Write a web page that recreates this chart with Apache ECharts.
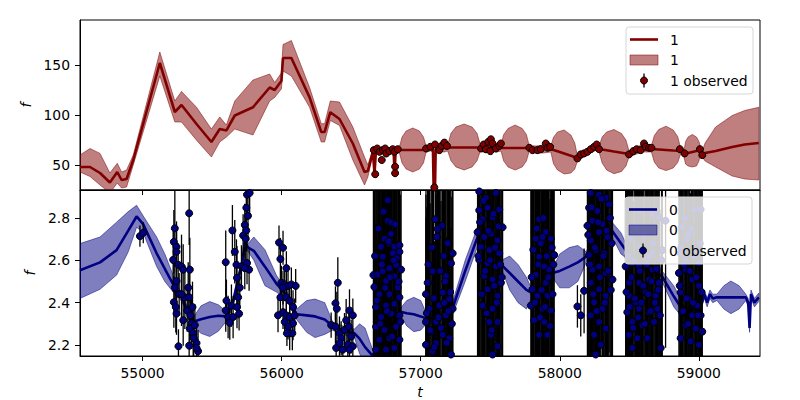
<!DOCTYPE html>
<html>
<head>
<meta charset="utf-8">
<script src="https://cdn.jsdelivr.net/npm/echarts@6/dist/echarts.min.js"></script>
<style>html,body{margin:0;padding:0;background:#fff}#c{width:800px;height:400px}</style>
</head>
<body>
<div id="c"></div>
<script>
// ---------- axis ticks ----------
const tickX = [55000, 56000, 57000, 58000, 59000];
const tickY1 = [50, 100, 150];
const tickY0 = [2.2, 2.4, 2.6, 2.8];

// ---------- top panel (series "1") model ----------
const modelT1 = [54550,54622,54694,54765,54818,54849,54885,54933,55124,55232,55280,55388,55495,55555,55603,55663,55794,55914,55950,55998,56010,56070,56201,56285,56309,56350,56416,56512,56596,56620,56656,56668,56678,56720,56760,56805,56812,56820,56847,
56866,56895,56943,56991,57020,57039,57070,57088,57093,57103,57108,57134,57170,57194,
57218,57253,57312,57370,57405,57429,57470,57505,57545,57577,
57597,57628,57679,57730,57760,57780,57830,57880,57936,
57955,57984,58032,58080,58108,58127,58175,58223,58266,58283,
58305,58337,58390,58444,58476,58498,58553,58606,58659,
58680,58712,58764,58816,58848,58869,58893,
58905,58923,58953,58983,59001,59013,59025,59045,59121,59240,59330,59431];
const modelM1 = [48,48,42,32.5,43,35,36,55,152,103,110,91,73,86,84.6,99.5,107.7,127.5,125,134,157,157,117.6,83,83,102.8,96,71.5,43,44,63,41,64,65,64,65,42,64,65,
65,65,65,65,65,66,67,66,27,27,66,66,67,67,
67.5,67.5,67.5,67.5,67.5,67,66,68,67,67,
67,67,67,67,67,66.5,65.5,66,66,
65,63.7,61.5,59.3,58,56.6,61,65,68,66,
65.5,64.8,63.5,62.3,61.5,61,64,67,66,
65.8,65.5,65,64.5,64.2,64,61,
61.5,62,63,64,64.5,65,61,62,64,68,70.5,72];
const modelLo1 = [43,38.5,30,22,32,27,28,50,139,93,93,74.8,58,73,78,86,80,114,117.6,126,144,139,107.7,73,73,94.5,89.6,55,30,38,60,38,61,62,61,62,39,61,62,
52,46,43,46,52,63,64,63,24,24,63,63,63,64,
54.2,48.1,45,48.1,54.2,64,62,64,63,64,
54,48,45,48,54,63.5,62,62,63,
51.3,45,41,42,46,54,58,62,65,63,
52,45,41.3,43.5,49,58,61,63,63,
53,47,44.4,47,52.5,61,58,
51,49,48,49,54,62,58,54,48,39,36,35];
const modelHi1 = [60,66.5,61.6,42,51.7,43,45,60,163,114,123.6,107.7,86,98,90,114,135,141,132.5,142,170.5,174.5,127.5,91.3,91.3,114,113,88,58,50,66,44,67,68,67,68,45,67,68,
78,84,87,84,78,69,70,69,30,30,69,70,71,70,
81.8,87.9,91,87.9,81.8,70,70,72,71,70,
80.5,86.5,90,86.5,80.5,69.5,69,70,69,
77.7,83,85,80,72,59,64,68,71,69,
78,83,85.5,81.5,75,64,68,71,69,
79.5,85.5,88.8,85,78.5,67,64,
73.5,78,80.5,78,73.5,68,64,72,88,99.5,104.5,107.7];

// ---------- top panel observed ----------
const obsT1 = [56663,56687,56704,56720,56728,56744,56752,56775,56799,56811,56835,56816,56816,56673,
57039,57070,57103,57134,57151,57170,57189,57098,
57434,57453,57469,57486,57505,57517,57501,57541,57565,57577,
57781,57804,57840,57864,57900,57912,57931,
58127,58151,58175,58199,58223,58247,58266,58283,
58498,58529,58553,58582,58606,58618,58642,58659,
58864,58898,59008,59025];
const obsF1 = [64.9,66.5,63.2,55.0,64.9,66.5,61.5,63.9,65.8,63.2,65.8,48.3,41.8,40.8,
66.5,68.2,70.5,64.9,69.1,72.4,69.1,27.6,
66.5,70.5,65.8,73.1,75.7,71.5,63.9,66.5,69.1,71.5,
67.2,64.9,64.9,65.8,71.5,67.2,68.1,
56.6,60.6,61.6,63.2,65.8,68.2,70.5,65.8,
60.6,63.9,65.8,64.9,71.5,68.2,67.2,67.2,
65.8,61.6,65.8,59.9];
const obsE1 = [2,2,2,3,2,2,2,2,2,2,2,3,3,3,
2,2,2,2,2,2,2,3,
2,2,2,2,2,2,2,2,2,2,
2,2,2,2,2,2,2,
2,2,2,2,2,2,2,2,
2,2,2,2,2,2,2,2,
2,2,2,2];

// ---------- bottom panel (series "0") model ----------
const modelT0 = [54550,54694,54813,54897,54957,55004,55101,55160,55220,55260,55300,55340,55365,55420,55483,55545,55600,55650,55690,55720,55735,55760,55800,55880,55962,56030,56108,56180,56240,56310,56366,56440,56524,56560,56600,56653,56760,56862,56900,56950,57000,57041,57130,57228,57320,57422,57500,57580,57640,57700,57760,57795,57850,57946,58000,58068,58130,58190,58230,58262,58355,58376,58440,58498,58600,58735,58820,58907,58960,59022,59040,59060,59080,59100,59130,59180,59230,59290,59338,59355,59365,59375,59400,59431];
const modelM0 = [2.553,2.59,2.648,2.74,2.807,2.771,2.633,2.56,2.486,2.45,2.40,2.32,2.31,2.322,2.332,2.338,2.335,2.40,2.52,2.60,2.687,2.66,2.645,2.57,2.49,2.44,2.345,2.34,2.335,2.32,2.29,2.27,2.255,2.23,2.19,2.15,2.25,2.356,2.35,2.345,2.335,2.325,2.33,2.371,2.55,2.733,2.68,2.579,2.54,2.50,2.46,2.448,2.46,2.54,2.55,2.57,2.59,2.617,2.68,2.748,2.748,2.74,2.68,2.625,2.58,2.525,2.43,2.34,2.38,2.40,2.44,2.40,2.44,2.42,2.425,2.425,2.425,2.425,2.425,2.40,2.28,2.44,2.40,2.425];
const modelLo0 = [2.42,2.463,2.53,2.64,2.756,2.73,2.571,2.50,2.45,2.43,2.38,2.30,2.29,2.255,2.24,2.265,2.31,2.38,2.50,2.58,2.665,2.64,2.60,2.48,2.45,2.42,2.32,2.26,2.235,2.25,2.27,2.25,2.235,2.16,2.11,2.12,2.23,2.33,2.29,2.263,2.27,2.30,2.31,2.34,2.50,2.69,2.66,2.56,2.46,2.40,2.37,2.42,2.44,2.52,2.47,2.47,2.50,2.59,2.66,2.73,2.73,2.71,2.63,2.60,2.56,2.50,2.38,2.31,2.36,2.38,2.42,2.38,2.42,2.40,2.41,2.37,2.348,2.37,2.41,2.38,2.26,2.42,2.38,2.405];
const modelHi0 = [2.679,2.71,2.78,2.83,2.86,2.81,2.71,2.63,2.53,2.47,2.42,2.34,2.33,2.385,2.405,2.39,2.36,2.42,2.54,2.62,2.71,2.68,2.71,2.65,2.53,2.46,2.37,2.41,2.417,2.40,2.31,2.29,2.275,2.30,2.28,2.18,2.27,2.38,2.41,2.425,2.41,2.35,2.35,2.40,2.60,2.78,2.70,2.60,2.62,2.58,2.52,2.47,2.48,2.56,2.63,2.66,2.67,2.64,2.70,2.77,2.77,2.78,2.73,2.65,2.60,2.55,2.48,2.37,2.40,2.42,2.46,2.42,2.46,2.44,2.44,2.48,2.502,2.48,2.44,2.42,2.30,2.46,2.42,2.445];

// ---------- bottom panel observed ----------
const obsT0 = [54981,55005,
55232,55225,55244,55244,55220,55256,55280,55292,55335,55340,55232,55244,55263,55225,55239,55244,55292,55304,55280,55328,55335,55321,55344,55359,55352,55340,55364,55376,55388,55368,55335,55258,55399,55388,
55598,55603,55598,55615,55627,55639,55651,55646,55663,55675,55679,55687,55679,55694,55699,55711,55723,55735,55746,55742,55758,55751,55746,55751,55766,55735,55770,
55981,56010,55991,56034,55998,56022,56046,56070,56101,56010,55991,56034,56058,56082,55974,56010,56034,56058,56094,56022,56082,56046,56058,56077,56038,
56404,56387,56397,56356,56387,56416,56428,56392,56416,56452,56464,56488,56512,56483,56500,56476,56440,56512,56488,
56763,56763,56787,56787,56739,56715,56775,56811,56847,56799,56727,56828,56847,56660,56691,56667,56727,56775,56823,56859,56811,56751,56835,56703,56775,56847,56679,56751,56811,56715,56787,56847,56679,56739,56823,56703,56775,56847,56679,56751,56811,
57105,57153,57122,57230,57086,57218,57038,57158,57062,57134,57206,57038,57110,57182,57230,57038,57110,57206,57074,57158,57218,57086,57050,57182,
57421,57469,57541,57421,57481,57565,57445,57517,57589,57409,57457,57505,57553,57433,57493,57565,57421,57481,57541,57457,57517,57577,57481,57553,57445,57517,57493,57553,57505,57553,57517,
57852,57900,57876,57936,57828,57960,57852,57888,57828,57924,57900,57804,57840,57912,57792,57876,57936,57816,57888,57852,57912,
58223,58283,58331,58211,58271,58355,58235,58307,58199,58283,58343,58223,58259,58319,58211,58379,58283,58235,58331,58127,58151,58223,58283,58331,58247,58307,58223,58283,58331,58247,58295,58259,58175,
58474,58522,58570,58630,58666,58498,58570,58642,58714,58498,58546,58618,58690,58486,58570,58642,58702,58522,58594,58678,58498,58558,58630,58726,58522,58570,58666,58714,58761,58737,58666,58570,
58857,58905,58953,59001,58869,58929,58989,58881,58953,59013,58905,58977,59025,58869,58941,59001,58965,59013,58881,58929,58977,58869,58905,59001,
56672,56685,56697,56709,56721,56733,56745,56757,56769,56781,56793,56805,56817,56841,56853,
57044,57056,57068,57080,57093,57099,57116,57128,57140,57146,57165,57170,57176,57188,57194,57200,57212,57224,
57415,57427,57439,57451,57463,57475,57487,57499,57511,57523,57529,57535,57547,57559,57571,57583,
57798,57810,57822,57834,57846,57858,57864,57870,57882,57894,57906,57918,57930,57942,57948,57954,
58205,58217,58229,58241,58253,58265,58277,58289,58301,58313,58325,58337,58349,58361,58367,58373,
58480,58492,58504,58510,58516,58528,58534,58540,58552,58564,58576,58582,58588,58600,58606,58612,58624,58636,58648,58654,58660,58672,58684,58696,58708,58720,58732,
58863,58875,58887,58893,58899,58911,58917,58923,58935,58947,58959,58971,58983,58995,59007,59019];
const obsF0 = [2.714,2.73,
2.751,2.687,2.664,2.640,2.602,2.579,2.571,2.556,2.822,2.556,2.471,2.502,2.440,2.402,2.379,2.348,2.317,2.425,2.440,2.471,2.425,2.363,2.340,2.379,2.302,2.278,2.255,2.294,2.209,2.232,2.197,2.194,2.171,2.186,
2.591,2.409,2.363,2.332,2.305,2.386,2.332,2.741,2.640,2.579,2.517,2.425,2.379,2.348,2.471,2.571,2.717,2.767,2.741,2.702,2.810,2.910,2.848,2.587,2.556,2.563,2.918,
2.684,2.659,2.606,2.563,2.494,2.486,2.479,2.486,2.479,2.471,2.425,2.425,2.409,2.379,2.340,2.355,2.340,2.332,2.340,2.309,2.302,2.286,2.255,2.255,2.255,
2.494,2.397,2.371,2.294,2.286,2.255,2.232,2.186,2.209,2.271,2.317,2.363,2.340,2.286,2.240,2.202,2.178,2.194,2.178,
2.884,2.787,2.779,2.725,2.702,2.664,2.679,2.664,2.671,2.633,2.617,2.610,2.640,2.530,2.533,2.474,2.548,2.563,2.579,2.556,2.525,2.502,2.471,2.440,2.440,2.425,2.379,2.386,2.394,2.332,2.348,2.340,2.286,2.271,2.286,2.225,2.232,2.225,2.178,2.178,2.186,
2.794,2.763,2.748,2.633,2.548,2.586,2.440,2.448,2.371,2.386,2.417,2.309,2.309,2.340,2.371,2.201,2.209,2.232,2.263,2.248,2.155,2.171,2.494,2.525,
2.925,2.894,2.918,2.836,2.848,2.840,2.794,2.802,2.756,2.733,2.710,2.725,2.694,2.663,2.648,2.633,2.602,2.586,2.571,2.525,2.509,2.494,2.463,2.432,2.386,2.371,2.309,2.309,2.248,2.194,2.155,
2.794,2.733,2.710,2.702,2.702,2.625,2.617,2.571,2.532,2.556,2.494,2.463,2.432,2.432,2.386,2.371,2.363,2.317,2.309,2.248,2.248,
2.918,2.910,2.894,2.848,2.833,2.864,2.787,2.771,2.763,2.733,2.710,2.694,2.648,2.633,2.625,2.509,2.571,2.556,2.540,2.382,2.340,2.494,2.463,2.432,2.402,2.371,2.340,2.309,2.278,2.248,2.201,2.155,2.456,
2.571,2.586,2.571,2.602,2.556,2.494,2.494,2.509,2.494,2.432,2.402,2.448,2.432,2.355,2.371,2.355,2.371,2.309,2.294,2.309,2.248,2.232,2.232,2.186,2.186,2.833,2.817,2.802,2.787,2.648,2.633,2.663,
2.540,2.556,2.509,2.479,2.448,2.417,2.386,2.355,2.340,2.340,2.294,2.278,2.263,2.232,2.217,2.201,2.840,2.840,2.756,2.725,2.648,2.633,2.602,2.586,
2.62,2.41,2.75,2.30,2.58,2.83,2.47,2.36,2.69,2.52,2.24,2.60,2.77,2.50,2.31,
2.35,2.58,2.27,2.66,2.42,2.19,2.71,2.33,2.55,2.28,2.62,2.40,2.50,2.21,2.68,2.36,2.45,2.30,
2.62,2.78,2.44,2.88,2.55,2.35,2.74,2.60,2.27,2.82,2.48,2.66,2.40,2.76,2.58,2.52,
2.52,2.65,2.40,2.75,2.58,2.33,2.68,2.46,2.80,2.38,2.62,2.52,2.29,2.66,2.44,2.58,
2.72,2.58,2.85,2.44,2.66,2.36,2.78,2.52,2.89,2.62,2.40,2.74,2.55,2.80,2.46,2.68,
2.45,2.62,2.38,2.70,2.52,2.28,2.60,2.42,2.76,2.33,2.55,2.66,2.40,2.48,2.72,2.30,2.58,2.44,2.62,2.36,2.50,2.68,2.40,2.56,2.46,2.34,2.60,
2.48,2.66,2.36,2.58,2.80,2.42,2.70,2.30,2.55,2.75,2.40,2.62,2.52,2.34,2.68,2.45];
const obsE0 = [0.05,0.05,
0.18,0.15,0.12,0.12,0.15,0.10,0.15,0.12,0.15,0.15,0.12,0.15,0.10,0.12,0.12,0.10,0.12,0.15,0.15,0.12,0.15,0.10,0.10,0.12,0.12,0.10,0.12,0.10,0.08,0.10,0.10,0.08,0.10,0.08,
0.15,0.10,0.10,0.10,0.08,0.10,0.10,0.12,0.15,0.12,0.15,0.10,0.10,0.08,0.10,0.10,0.10,0.10,0.10,0.10,0.12,0.12,0.12,0.10,0.10,0.10,0.12,
0.08,0.08,0.10,0.08,0.08,0.08,0.08,0.08,0.08,0.08,0.08,0.08,0.08,0.08,0.08,0.08,0.08,0.08,0.08,0.06,0.08,0.06,0.08,0.08,0.06,
0.12,0.08,0.08,0.06,0.08,0.08,0.08,0.08,0.06,0.08,0.10,0.10,0.08,0.08,0.08,0.08,0.06,0.08,0.06,
0.7,0.7,0.8,0.7,0.6,0.7,0.8,0.7,0.6,0.7,0.7,0.8,0.7,0.6,0.7,0.5,0.8,0.7,0.8,0.6,0.7,0.8,0.7,0.7,0.8,0.6,0.7,0.8,0.7,0.8,0.7,0.6,0.7,0.8,0.7,0.6,0.7,0.6,0.6,0.7,0.6,
0.7,0.7,0.8,0.7,0.8,0.7,0.6,0.8,0.7,0.8,0.7,0.6,0.7,0.8,0.7,0.6,0.7,0.7,0.7,0.8,0.6,0.7,0.7,0.7,
0.7,0.8,0.7,0.7,0.8,0.7,0.8,0.7,0.7,0.6,0.8,0.7,0.8,0.7,0.8,0.7,0.7,0.8,0.7,0.8,0.7,0.7,0.8,0.7,0.7,0.8,0.7,0.7,0.7,0.6,0.6,
0.7,0.7,0.8,0.7,0.7,0.6,0.8,0.7,0.7,0.7,0.7,0.6,0.7,0.7,0.6,0.7,0.7,0.7,0.7,0.7,0.7,
0.8,0.8,0.8,0.7,0.8,0.7,0.8,0.8,0.7,0.8,0.7,0.8,0.8,0.8,0.7,0.6,0.8,0.8,0.8,0.1,0.1,0.8,0.8,0.8,0.8,0.8,0.8,0.8,0.8,0.7,0.7,0.7,0.2,
0.7,0.8,0.7,0.8,0.7,0.8,0.7,0.8,0.6,0.7,0.8,0.7,0.7,0.7,0.8,0.7,0.6,0.7,0.8,0.7,0.7,0.7,0.7,0.3,0.7,0.7,0.7,0.7,0.6,0.6,0.7,0.7,
0.7,0.8,0.7,0.7,0.7,0.8,0.7,0.7,0.8,0.7,0.7,0.7,0.7,0.7,0.7,0.7,0.7,0.7,0.7,0.7,0.7,0.7,0.7,0.7,
0.8,0.7,0.8,0.7,0.8,0.7,0.8,0.7,0.8,0.7,0.8,0.7,0.8,0.7,0.6,
0.5,0.7,0.6,0.7,0.6,0.5,0.7,0.6,0.7,0.6,0.7,0.6,0.7,0.5,0.7,0.6,0.7,0.6,
0.7,0.8,0.7,0.8,0.7,0.7,0.8,0.7,0.7,0.8,0.7,0.8,0.7,0.8,0.7,0.6,
0.6,0.7,0.6,0.7,0.6,0.7,0.7,0.6,0.7,0.6,0.7,0.6,0.6,0.7,0.6,0.6,
0.7,0.8,0.7,0.8,0.7,0.8,0.7,0.8,0.7,0.8,0.7,0.8,0.7,0.7,0.7,0.6,
0.6,0.7,0.6,0.7,0.6,0.6,0.7,0.6,0.7,0.6,0.7,0.6,0.6,0.7,0.6,0.6,0.7,0.6,0.7,0.6,0.6,0.7,0.6,0.6,0.5,0.5,0.5,
0.7,0.7,0.6,0.7,0.7,0.6,0.7,0.6,0.7,0.7,0.6,0.7,0.7,0.6,0.7,0.6];

// ---------- chart ----------
const FONT = 'DejaVu Sans';
const FS = 13.9;
const X_MIN = 54550, X_MAX = 59440;
const RED = '#800000', NAVY = '#000080';

function bandSeries(xi, T, LO, HI, rgba) {
  return {
    type: 'custom', xAxisIndex: xi, yAxisIndex: xi, clip: true, silent: true, z: 1,
    data: [[T[0], LO[0]]],
    renderItem: function (params, api) {
      const pts = [];
      for (let i = 0; i < T.length; i++) pts.push(api.coord([T[i], HI[i]]));
      for (let i = T.length - 1; i >= 0; i--) pts.push(api.coord([T[i], LO[i]]));
      return { type: 'polygon', shape: { points: pts },
        style: { fill: rgba, stroke: rgba, lineWidth: 1 } };
    }
  };
}
function lineSeries(xi, T, M, color) {
  return { type: 'line', xAxisIndex: xi, yAxisIndex: xi, z: 2, silent: true,
    data: T.map((t, i) => [t, M[i]]), showSymbol: false, symbol: 'none',
    lineStyle: { color: color, width: 2.6 }, clip: true };
}
function errSeries(xi, T, F, E) {
  return { type: 'custom', xAxisIndex: xi, yAxisIndex: xi, clip: true, silent: true, z: 3,
    data: T.map((t, i) => [t, F[i], E[i]]), encode: { x: 0, y: 1 },
    renderItem: function (params, api) {
      const t = api.value(0), f = api.value(1), e = api.value(2);
      const a = api.coord([t, f - e]), b = api.coord([t, f + e]);
      return { type: 'line', shape: { x1: a[0], y1: a[1], x2: b[0], y2: b[1] },
        style: { stroke: '#000', lineWidth: 1.3 } };
    } };
}
function ptSeries(xi, T, F, color) {
  return { type: 'scatter', xAxisIndex: xi, yAxisIndex: xi, z: 4, silent: true,
    data: T.map((t, i) => [t, F[i]]), symbol: 'circle', symbolSize: 7, clip: true,
    itemStyle: { color: color, borderColor: '#000', borderWidth: 1, opacity: 1 } };
}
function legendGraphic(x, y, color, bandRgba, lab) {
  const tx = x + 44;
  const r1 = y + 12.5, r2 = y + 33, r3 = y + 53.5;
  return [
    { type: 'rect', z: 100, shape: { x: x, y: y, width: 127, height: 67, r: 3 },
      style: { fill: 'rgba(255,255,255,0.8)', stroke: '#d6d6d6', lineWidth: 1 } },
    { type: 'line', z: 101, shape: { x1: x + 4, y1: r1, x2: x + 32, y2: r1 },
      style: { stroke: color, lineWidth: 2.6 } },
    { type: 'rect', z: 101, shape: { x: x + 4, y: r2 - 5, width: 28, height: 10 },
      style: { fill: bandRgba, stroke: bandRgba, lineWidth: 1 } },
    { type: 'line', z: 101, shape: { x1: x + 18, y1: r3 - 7, x2: x + 18, y2: r3 + 7 },
      style: { stroke: '#000', lineWidth: 1.3 } },
    { type: 'circle', z: 102, shape: { cx: x + 18, cy: r3, r: 3.5 },
      style: { fill: color, stroke: '#000', lineWidth: 1 } },
    { type: 'text', z: 101, style: { x: tx, y: r1, text: lab, fill: '#000', font: FS + 'px "' + FONT + '"', verticalAlign: 'middle' } },
    { type: 'text', z: 101, style: { x: tx, y: r2, text: lab, fill: '#000', font: FS + 'px "' + FONT + '"', verticalAlign: 'middle' } },
    { type: 'text', z: 101, style: { x: tx, y: r3, text: lab + ' observed', fill: '#000', font: FS + 'px "' + FONT + '"', verticalAlign: 'middle' } }
  ];
}

const axisCommon = {
  axisLine: { show: true, onZero: false, lineStyle: { color: '#000', width: 1 } },
  splitLine: { show: false }
};
const labelStyle = { color: '#000', fontSize: FS, fontFamily: FONT };

const option = {
  animation: false,
  backgroundColor: '#fff',
  grid: [
    { left: 80, right: 40, top: 20, height: 170, show: true, borderColor: '#000', borderWidth: 1, backgroundColor: 'transparent' },
    { left: 80, right: 40, top: 190, height: 170, show: true, borderColor: '#000', borderWidth: 1, backgroundColor: 'transparent' }
  ],
  xAxis: [
    Object.assign({ type: 'value', gridIndex: 0, min: X_MIN, max: X_MAX,
      axisTick: { show: true, customValues: tickX, length: 5, lineStyle: { color: '#000' } },
      axisLabel: { show: false } }, axisCommon),
    Object.assign({ type: 'value', gridIndex: 1, min: X_MIN, max: X_MAX,
      axisTick: { show: true, customValues: tickX, length: 5, lineStyle: { color: '#000' } },
      axisLabel: Object.assign({ customValues: tickX, margin: 10, formatter: v => String(v) }, labelStyle),
      name: 't', nameLocation: 'middle', nameGap: 29,
      nameTextStyle: { color: '#000', fontSize: FS, fontFamily: FONT, fontStyle: 'italic' } }, axisCommon)
  ],
  yAxis: [
    Object.assign({ type: 'value', gridIndex: 0, min: 25, max: 195,
      axisTick: { show: true, customValues: tickY1, length: 5, lineStyle: { color: '#000' } },
      axisLabel: Object.assign({ customValues: tickY1, margin: 10, formatter: v => String(v) }, labelStyle),
      name: 'f', nameLocation: 'middle', nameGap: 36, nameRotate: 90,
      nameTextStyle: { color: '#000', fontSize: FS, fontFamily: FONT, fontStyle: 'italic' } }, axisCommon),
    Object.assign({ type: 'value', gridIndex: 1, min: 2.148, max: 2.932,
      axisTick: { show: true, customValues: tickY0, length: 5, lineStyle: { color: '#000' } },
      axisLabel: Object.assign({ customValues: tickY0, margin: 10, formatter: v => v.toFixed(1) }, labelStyle),
      name: 'f', nameLocation: 'middle', nameGap: 36, nameRotate: 90,
      nameTextStyle: { color: '#000', fontSize: FS, fontFamily: FONT, fontStyle: 'italic' } }, axisCommon)
  ],
  series: [
    bandSeries(0, modelT1, modelLo1, modelHi1, 'rgba(128,0,0,0.5)'),
    lineSeries(0, modelT1, modelM1, RED),
    errSeries(0, obsT1, obsF1, obsE1),
    ptSeries(0, obsT1, obsF1, RED),
    bandSeries(1, modelT0, modelLo0, modelHi0, 'rgba(0,0,128,0.5)'),
    lineSeries(1, modelT0, modelM0, NAVY),
    errSeries(1, obsT0, obsF0, obsE0),
    ptSeries(1, obsT0, obsF0, NAVY)
  ],
  graphic: { elements: [].concat(
    legendGraphic(626, 27, RED, 'rgba(128,0,0,0.5)', '1'),
    legendGraphic(625, 197, NAVY, 'rgba(0,0,128,0.5)', '0')
  ) }
};

const chart = echarts.init(document.getElementById('c'), null, { renderer: 'svg', width: 800, height: 400 });
chart.setOption(option);
</script>
</body>
</html>
